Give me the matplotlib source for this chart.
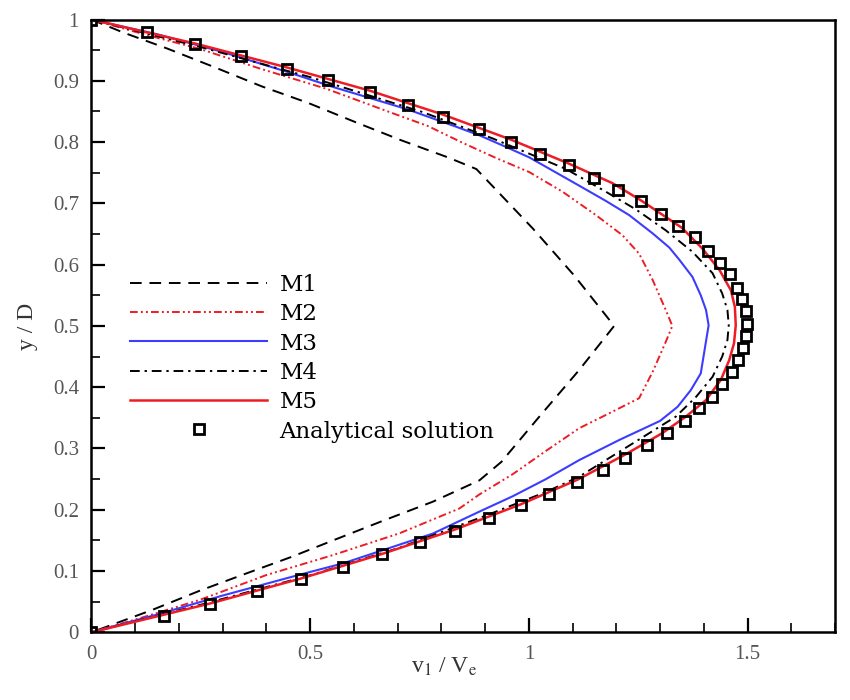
import numpy as np
import matplotlib
matplotlib.use('Agg')
import matplotlib.pyplot as plt
from matplotlib.ticker import MultipleLocator, FuncFormatter

#------ Data ------#
# Analytical solution (squares)
ana_x = [0.0, 0.126, 0.236, 0.341, 0.446, 0.541, 0.636, 0.723, 0.803, 0.885,
         0.959, 1.026, 1.091, 1.150, 1.204, 1.256, 1.302, 1.341, 1.380, 1.410,
         1.437, 1.460, 1.476, 1.487, 1.496, 1.499, 1.496, 1.490, 1.478, 1.465,
         1.442, 1.419, 1.389, 1.357, 1.316, 1.271, 1.220, 1.169, 1.111, 1.047,
         0.982, 0.908, 0.832, 0.752, 0.665, 0.575, 0.480, 0.379, 0.271, 0.166, 0.0]
ana_y = [1.0, 0.979, 0.960, 0.941, 0.920, 0.901, 0.882, 0.860, 0.841, 0.821,
         0.800, 0.781, 0.762, 0.741, 0.722, 0.704, 0.682, 0.663, 0.645, 0.622,
         0.603, 0.585, 0.562, 0.544, 0.524, 0.503, 0.483, 0.464, 0.444, 0.425,
         0.405, 0.384, 0.366, 0.345, 0.325, 0.306, 0.285, 0.265, 0.246, 0.226,
         0.207, 0.187, 0.166, 0.147, 0.127, 0.106, 0.087, 0.068, 0.046, 0.027, 0.0]

# M1
m1_x = [0.0, 0.072, 0.172, 0.282, 0.389, 0.495, 0.602, 0.708, 0.815, 0.880,
        1.009, 1.104, 1.195, 1.115, 1.024, 0.937, 0.887, 0.780, 0.670, 0.563,
        0.457, 0.350, 0.248, 0.137, 0.0]
m1_y = [1.0, 0.979, 0.953, 0.922, 0.891, 0.864, 0.833, 0.803, 0.775, 0.756,
        0.659, 0.582, 0.500, 0.428, 0.352, 0.278, 0.248, 0.213, 0.183, 0.153,
        0.123, 0.095, 0.068, 0.036, 0.0]

# M2
m2_x = [0.0, 0.12, 0.248, 0.385, 0.537, 0.689, 0.77, 0.845, 0.925, 1.001,
        1.077, 1.153, 1.214, 1.252, 1.283, 1.313, 1.328, 1.313, 1.283, 1.252,
        1.191, 1.115, 1.039, 0.963, 0.887, 0.841, 0.704, 0.552, 0.4, 0.248, 0.12, 0.0]
m2_y = [1.0, 0.976, 0.952, 0.920, 0.887, 0.847, 0.826, 0.800, 0.774, 0.751,
        0.719, 0.681, 0.648, 0.618, 0.575, 0.526, 0.500, 0.474, 0.425, 0.382,
        0.360, 0.333, 0.296, 0.258, 0.225, 0.202, 0.1615, 0.126, 0.0935, 0.053, 0.025, 0.0]

# M3
m3_x = [0.0, 0.15, 0.3, 0.45, 0.552, 0.72, 0.834, 0.887, 0.948, 1.001, 1.1,
        1.176, 1.229, 1.283, 1.321, 1.344, 1.374, 1.393, 1.405, 1.411, 1.405,
        1.393, 1.37, 1.34, 1.30, 1.207, 1.115, 1.039, 0.963, 0.887, 0.78,
        0.666, 0.575, 0.476, 0.3, 0.15, 0.0]
m3_y = [1.0, 0.976, 0.947, 0.914, 0.890, 0.854, 0.825, 0.811, 0.792, 0.775, 0.735,
        0.704, 0.681, 0.651, 0.628, 0.608, 0.580, 0.550, 0.526, 0.501, 0.475,
        0.4225, 0.395, 0.368, 0.345, 0.314, 0.281, 0.250, 0.222, 0.197, 0.161,
        0.134, 0.1125, 0.094, 0.060, 0.029, 0.0]

# M4
m4_x = [0.0, 0.25, 0.5, 0.757, 0.917, 1.085, 1.176, 1.245, 1.313, 1.374, 1.42,
        1.442, 1.454, 1.457, 1.454, 1.442, 1.42, 1.382, 1.336, 1.237, 1.115,
        1.039, 0.9, 0.7, 0.5, 0.25, 0.0]
m4_y = [1.0, 0.955, 0.906, 0.849, 0.806, 0.756, 0.719, 0.690, 0.656, 0.621, 0.586,
        0.553, 0.526, 0.501, 0.477, 0.450, 0.417, 0.384, 0.352, 0.308, 0.254,
        0.229, 0.190, 0.137, 0.093, 0.045, 0.0]

# M5
m5_x = [0.0, 0.236, 0.446, 0.636, 0.803, 0.959, 1.091, 1.191, 1.256, 1.302, 1.35,
        1.397, 1.436, 1.462, 1.471, 1.473, 1.469, 1.458, 1.439, 1.405, 1.359,
        1.305, 1.22, 1.111, 0.982, 0.832, 0.665, 0.48, 0.271, 0.0]
m5_y = [1.0, 0.961, 0.922, 0.884, 0.845, 0.804, 0.765, 0.733, 0.705, 0.683, 0.660,
        0.626, 0.591, 0.558, 0.531, 0.501, 0.4715, 0.444, 0.412, 0.379, 0.352,
        0.325, 0.290, 0.249, 0.209, 0.168, 0.128, 0.088, 0.047, 0.0]
#--------------------------------------#

red = '#ee1c24'
blue = '#3c3cff'

plt.rcParams['mathtext.fontset'] = 'stix'

fig = plt.figure(figsize=(8.5, 7.0), dpi=100)
ax = fig.add_axes([0.1076, 0.0967, 0.8748, 0.8754])

ax.plot(m1_x, m1_y, color='black', lw=1.4, linestyle=(0, (6, 4)), label='M1')
ax.plot(m2_x, m2_y, color=red, lw=1.4, linestyle=(0, (4, 1.6, 1, 1.6, 1, 1.6)), label='M2')
ax.plot(m3_x, m3_y, color=blue, lw=1.5, label='M3')
ax.plot(m4_x, m4_y, color='black', lw=1.4, linestyle=(0, (5, 2.5, 1.2, 2.5)), label='M4')
ax.plot(m5_x, m5_y, color=red, lw=1.8, label='M5')
ax.plot(ana_x, ana_y, linestyle='none', marker='s', ms=7.5, mew=2.0,
        mec='black', mfc='none', label='Analytical solution')

ax.set_xlim(0, 1.7)
ax.set_ylim(0, 1)

ax.xaxis.set_major_locator(MultipleLocator(0.5))
ax.xaxis.set_minor_locator(MultipleLocator(0.1))
ax.yaxis.set_major_locator(MultipleLocator(0.1))
ax.yaxis.set_minor_locator(MultipleLocator(0.05))
fmt = FuncFormatter(lambda v, p: '%g' % round(v, 2))
ax.xaxis.set_major_formatter(fmt)
ax.yaxis.set_major_formatter(fmt)

ax.tick_params(which='major', direction='in', length=10, width=1.6,
               top=False, right=False, labelsize=15, labelcolor='#555555', pad=9)
ax.tick_params(which='minor', direction='in', length=6.5, width=1.2,
               top=False, right=False)
for lab in ax.get_xticklabels() + ax.get_yticklabels():
    lab.set_family('Liberation Serif')

for sp in ax.spines.values():
    sp.set_linewidth(1.8)

ax.set_xlabel(r'v$_1$ / V$_\mathrm{e}$', fontsize=17, family='Liberation Serif', color='#333333')
ax.set_ylabel('y / D', fontsize=17, family='Liberation Serif', color='#333333')
ax.xaxis.set_label_coords(0.475, -0.038)
ax.yaxis.set_label_coords(-0.072, 0.5)

leg = ax.legend(loc='upper left', bbox_to_anchor=(0.0518, 0.585), frameon=False,
                borderpad=0, borderaxespad=0, handlelength=6.0, handletextpad=0.52,
                labelspacing=0.32, numpoints=1,
                prop={'family': 'DejaVu Serif', 'size': 16.5})

fig.savefig('out.png', dpi=100)
